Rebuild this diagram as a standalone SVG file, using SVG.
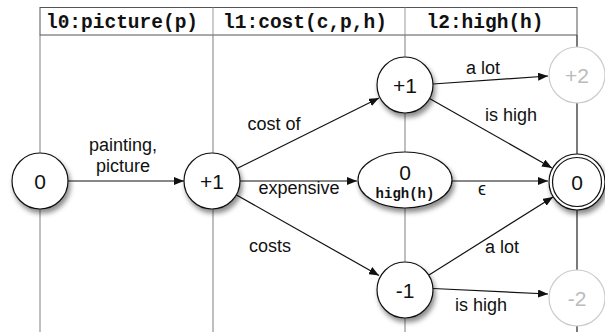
<svg xmlns="http://www.w3.org/2000/svg" width="605" height="332" viewBox="0 0 605 332">
<style>
.hdr{font-family:"Liberation Mono",monospace;font-weight:bold;font-size:19.5px;fill:#111;text-anchor:middle}
.lbl{font-family:"Liberation Sans",Arial,sans-serif;font-size:18px;fill:#111;text-anchor:middle}
.nt{font-family:"Liberation Sans",Arial,sans-serif;font-size:21px;fill:#111;text-anchor:middle}
.ntg{font-family:"Liberation Sans",Arial,sans-serif;font-size:21px;fill:#bbb;text-anchor:middle}
.sub{font-family:"Liberation Mono",monospace;font-weight:bold;font-size:14px;fill:#111;text-anchor:middle}
.node{fill:#fff;stroke:#111;stroke-width:1.2}
.gnode{fill:#fff;stroke:#ccc;stroke-width:1.2}
.edge{fill:none;stroke:#111;stroke-width:1.2;marker-end:url(#arr)}
.vl{stroke:#aaa;stroke-width:1.5}
.vd{stroke:#222;stroke-width:1.2}
</style>
<defs>
<marker id="arr" viewBox="0 0 10 8" refX="10" refY="4" markerWidth="10" markerHeight="8" markerUnits="userSpaceOnUse" orient="auto">
<path d="M0,0 L10,4 L0,8 z" fill="#111"/>
</marker>
<filter id="sh" x="-30%" y="-30%" width="170%" height="170%">
<feDropShadow dx="2" dy="4" stdDeviation="2.5" flood-color="#000" flood-opacity="0.45"/>
</filter>
</defs>
<g id="table">
<line class="vl" x1="40" y1="35" x2="40" y2="332"/>
<line class="vl" x1="213" y1="35" x2="213" y2="332"/>
<line class="vl" x1="405" y1="35" x2="405" y2="332"/>
<line class="vd" x1="577" y1="35" x2="577" y2="332"/>
<rect x="40" y="7.5" width="537" height="27.5" fill="#fff" stroke="#555" stroke-width="1"/>
<line x1="213" y1="7.5" x2="213" y2="35" stroke="#999" stroke-width="1"/>
<line x1="405" y1="7.5" x2="405" y2="35" stroke="#999" stroke-width="1"/>
<text class="hdr" x="122" y="27.5">l0:picture(p)</text>
<text class="hdr" x="305" y="27.5">l1:cost(c,p,h)</text>
<text class="hdr" x="485" y="27.5">l2:high(h)</text>
</g>
<g id="connectors">
<path class="edge" d="M68,181 L184,181"/>
<path class="edge" d="M237,168.5 L379,98"/>
<path class="edge" d="M240,181 L357,181"/>
<path class="edge" d="M236.5,195 L379,275.5"/>
<path class="edge" d="M433,84 L548,76"/>
<path class="edge" d="M429.5,98.5 L552,168"/>
<path class="edge" d="M452,181 L548,181"/>
<path class="edge" d="M429,275 L553,197"/>
<path class="edge" d="M433,288.5 L548,294"/>
<text class="lbl" x="123" y="151">painting,</text>
<text class="lbl" x="123" y="172">picture</text>
<text class="lbl" x="274" y="130">cost of</text>
<text class="lbl" x="299" y="194">expensive</text>
<text class="lbl" x="270" y="252">costs</text>
<text class="lbl" x="483" y="74">a lot</text>
<text class="lbl" x="511" y="121">is high</text>
<text class="lbl" x="482" y="195">ϵ</text>
<text class="lbl" x="502" y="253">a lot</text>
<text class="lbl" x="481" y="311">is high</text>
</g>
<g id="n0"><circle class="node" filter="url(#sh)" cx="40" cy="181" r="28"/><text class="nt" x="40" y="188.5">0</text></g>
<g id="n1"><circle class="node" filter="url(#sh)" cx="212" cy="181" r="28"/><text class="nt" x="212" y="188.5">+1</text></g>
<g id="n2"><circle class="node" filter="url(#sh)" cx="405" cy="85" r="28"/><text class="nt" x="405" y="92.5">+1</text></g>
<g id="n3"><ellipse class="node" filter="url(#sh)" cx="405" cy="180" rx="47" ry="28"/><text class="nt" x="405" y="180">0</text><text class="sub" x="405" y="198">high(h)</text></g>
<g id="n4"><circle class="node" filter="url(#sh)" cx="405" cy="290" r="28"/><text class="nt" x="405" y="297.5">-1</text></g>
<g id="n5"><circle class="gnode" cx="577" cy="75" r="28"/><text class="ntg" x="577" y="82.5">+2</text></g>
<g id="n6"><circle class="node" filter="url(#sh)" cx="577" cy="182" r="28"/><circle fill="none" stroke="#111" stroke-width="1.2" cx="577" cy="182" r="24.5"/><text class="nt" x="577" y="189.5">0</text></g>
<g id="n7"><circle class="gnode" cx="577" cy="298" r="28"/><text class="ntg" x="577" y="305.5">-2</text></g>
</svg>
